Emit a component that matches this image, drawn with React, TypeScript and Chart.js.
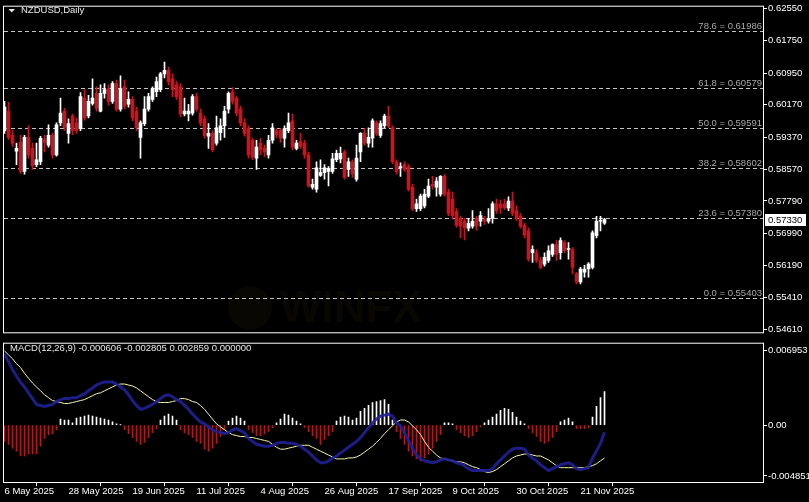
import React, { useEffect, useRef } from "react";
import { Chart, registerables } from "chart.js";

Chart.register(...registerables);

const FONT = '"Liberation Sans", Arial, sans-serif';

// ---- price data (NZDUSD daily) ----
const OPEN = [
  0.5953,0.6001,0.5941,0.5902,0.5924,0.5852,0.5936,0.5909,0.5869,0.5876,
  0.5931,0.5917,0.5941,0.5893,0.5972,0.6001,0.5946,0.5989,0.5972,0.5958,
  0.6033,0.5989,0.6020,0.6045,0.6001,0.6045,0.6057,0.6025,0.6069,0.6006,
  0.6061,0.6018,0.6030,0.6001,0.5936,0.5970,0.6006,0.6030,0.6049,0.6054,
  0.6093,0.6102,0.6081,0.6066,0.6061,0.5994,0.5994,0.5996,0.6037,0.5996,
  0.5982,0.5939,0.5946,0.5922,0.5948,0.5965,0.6006,0.6049,0.6033,0.6006,
  0.5972,0.5958,0.5929,0.5885,0.5922,0.5909,0.5893,0.5929,0.5953,0.5953,
  0.5934,0.5953,0.5977,0.5909,0.5926,0.5922,0.5893,0.5813,0.5808,0.5842,
  0.5849,0.5852,0.5852,0.5881,0.5883,0.5900,0.5857,0.5876,0.5833,0.5900,
  0.5946,0.5922,0.5934,0.5972,0.5941,0.5965,0.5989,0.5960,0.5876,0.5861,
  0.5869,0.5864,0.5813,0.5760,0.5760,0.5767,0.5791,0.5820,0.5813,0.5796,
  0.5840,0.5801,0.5784,0.5753,0.5736,0.5729,0.5712,0.5717,0.5736,0.5729,
  0.5733,0.5729,0.5736,0.5772,0.5772,0.5772,0.5762,0.5779,0.5755,0.5741,
  0.5719,0.5705,0.5651,0.5651,0.5632,0.5623,0.5632,0.5647,0.5671,0.5651,
  0.5676,0.5659,0.5659,0.5599,0.5579,0.5603,0.5611,0.5615,0.5693,0.5729,
  0.5724,
];
const HIGH = [
  0.6025,0.6023,0.5953,0.5922,0.5941,0.5941,0.5965,0.5922,0.5922,0.5939,
  0.5941,0.5967,0.5946,0.5972,0.6033,0.6008,0.5982,0.5994,0.5984,0.6047,
  0.6054,0.6040,0.6081,0.6061,0.6066,0.6069,0.6066,0.6074,0.6078,0.6088,
  0.6078,0.6049,0.6037,0.6011,0.5977,0.6037,0.6045,0.6061,0.6085,0.6097,
  0.6122,0.6110,0.6093,0.6074,0.6069,0.6033,0.6018,0.6042,0.6045,0.6006,
  0.5989,0.5970,0.5953,0.5989,0.5982,0.6013,0.6049,0.6059,0.6037,0.6013,
  0.5982,0.5965,0.5934,0.5929,0.5934,0.5917,0.5941,0.5970,0.5958,0.5958,
  0.5965,0.5996,0.5994,0.5929,0.5946,0.5929,0.5900,0.5833,0.5876,0.5881,
  0.5869,0.5864,0.5897,0.5905,0.5912,0.5905,0.5885,0.5881,0.5917,0.5948,
  0.5958,0.5960,0.5982,0.5977,0.5977,0.5994,0.6013,0.5965,0.5881,0.5873,
  0.5876,0.5869,0.5820,0.5784,0.5796,0.5808,0.5833,0.5840,0.5837,0.5842,
  0.5845,0.5808,0.5801,0.5760,0.5741,0.5736,0.5736,0.5755,0.5741,0.5753,
  0.5741,0.5760,0.5777,0.5784,0.5781,0.5784,0.5789,0.5801,0.5767,0.5748,
  0.5724,0.5712,0.5668,0.5659,0.5640,0.5651,0.5668,0.5673,0.5681,0.5688,
  0.5681,0.5676,0.5664,0.5603,0.5615,0.5620,0.5627,0.5705,0.5741,0.5741,
  0.5736,
];
const LOW = [
  0.5946,0.5931,0.5914,0.5869,0.5847,0.5845,0.5885,0.5857,0.5864,0.5869,
  0.5900,0.5912,0.5885,0.5890,0.5965,0.5953,0.5922,0.5943,0.5946,0.5953,
  0.5979,0.5984,0.6016,0.6001,0.5999,0.6033,0.6016,0.6020,0.6001,0.6001,
  0.6006,0.6011,0.5977,0.5953,0.5885,0.5965,0.6001,0.6025,0.6037,0.6049,
  0.6083,0.6066,0.6037,0.6030,0.5987,0.5989,0.5977,0.5991,0.6001,0.5965,
  0.5934,0.5909,0.5900,0.5917,0.5929,0.5936,0.5996,0.6018,0.5989,0.5965,
  0.5939,0.5885,0.5881,0.5857,0.5893,0.5888,0.5885,0.5922,0.5936,0.5924,
  0.5912,0.5948,0.5905,0.5905,0.5909,0.5885,0.5813,0.5808,0.5801,0.5840,
  0.5833,0.5816,0.5847,0.5876,0.5873,0.5833,0.5840,0.5837,0.5828,0.5876,
  0.5917,0.5912,0.5912,0.5941,0.5936,0.5960,0.5960,0.5871,0.5845,0.5840,
  0.5852,0.5804,0.5755,0.5753,0.5755,0.5762,0.5787,0.5808,0.5791,0.5791,
  0.5791,0.5743,0.5736,0.5714,0.5688,0.5683,0.5705,0.5712,0.5707,0.5717,
  0.5721,0.5724,0.5724,0.5748,0.5748,0.5758,0.5755,0.5743,0.5731,0.5712,
  0.5688,0.5630,0.5627,0.5627,0.5611,0.5618,0.5627,0.5642,0.5632,0.5635,
  0.5651,0.5635,0.5599,0.5574,0.5574,0.5591,0.5591,0.5611,0.5688,0.5705,
  0.5721,
];
const CLOSE = [
  0.6011,0.5936,0.5922,0.5909,0.5852,0.5936,0.5893,0.5866,0.5881,0.5934,
  0.5924,0.5941,0.5893,0.5967,0.5996,0.5960,0.5970,0.5953,0.5953,0.6037,
  0.5984,0.6025,0.6033,0.6008,0.6045,0.6054,0.6025,0.6069,0.6006,0.6057,
  0.6013,0.6030,0.5984,0.5960,0.5972,0.6006,0.6037,0.6057,0.6074,0.6093,
  0.6102,0.6074,0.6054,0.6037,0.5994,0.6001,0.6001,0.6037,0.6006,0.5972,
  0.5941,0.5946,0.5905,0.5960,0.5965,0.6001,0.6045,0.6025,0.5996,0.5972,
  0.5946,0.5893,0.5888,0.5912,0.5905,0.5900,0.5929,0.5960,0.5943,0.5934,
  0.5958,0.5972,0.5912,0.5922,0.5914,0.5893,0.5816,0.5820,0.5861,0.5849,
  0.5861,0.5859,0.5883,0.5897,0.5897,0.5837,0.5876,0.5845,0.5885,0.5946,
  0.5922,0.5936,0.5977,0.5946,0.5970,0.5989,0.5965,0.5876,0.5852,0.5864,
  0.5857,0.5808,0.5760,0.5772,0.5791,0.5796,0.5816,0.5816,0.5828,0.5840,
  0.5796,0.5748,0.5743,0.5719,0.5717,0.5712,0.5724,0.5729,0.5717,0.5743,
  0.5729,0.5736,0.5772,0.5755,0.5762,0.5762,0.5779,0.5748,0.5736,0.5717,
  0.5695,0.5635,0.5659,0.5632,0.5615,0.5640,0.5656,0.5671,0.5647,0.5681,
  0.5656,0.5661,0.5615,0.5579,0.5611,0.5611,0.5623,0.5700,0.5729,0.5731,
  0.5733,
];

// ---- MACD(12,26,9) ----
const MACD_MAIN = [
  0.006084,0.005420,0.004756,0.004175,0.003677,0.003262,0.002764,0.002266,0.001768,0.001685,
  0.001602,0.001685,0.001768,0.002017,0.002183,0.002266,0.002266,0.002349,0.002349,0.002515,
  0.002681,0.002930,0.003179,0.003428,0.003594,0.003677,0.003677,0.003677,0.003511,0.003262,
  0.003013,0.002598,0.002100,0.001685,0.001353,0.001436,0.001602,0.001768,0.002017,0.002266,
  0.002515,0.002598,0.002432,0.002183,0.002017,0.001685,0.001353,0.000938,0.000606,0.000274,
  0.000108,-0.000141,-0.000390,-0.000556,-0.000639,-0.000722,-0.000639,-0.000390,-0.000307,-0.000473,
  -0.000639,-0.001137,-0.001386,-0.001635,-0.001718,-0.001801,-0.001801,-0.001718,-0.001552,-0.001469,
  -0.001469,-0.001552,-0.001552,-0.001635,-0.001801,-0.002050,-0.002299,-0.002631,-0.002963,-0.003212,
  -0.003212,-0.003046,-0.002797,-0.002631,-0.002382,-0.002133,-0.001884,-0.001635,-0.001386,-0.001054,
  -0.000639,-0.000224,0.000191,0.000523,0.000772,0.000855,0.000938,0.000772,0.000191,-0.000058,
  -0.000639,-0.001303,-0.001967,-0.002548,-0.002880,-0.003046,-0.003129,-0.003212,-0.003129,-0.002963,
  -0.002880,-0.002963,-0.003046,-0.003212,-0.003295,-0.003461,-0.003710,-0.003876,-0.003876,-0.003876,
  -0.003876,-0.003876,-0.003710,-0.003295,-0.002963,-0.002631,-0.002299,-0.002050,-0.001967,-0.001967,
  -0.002050,-0.002548,-0.002797,-0.003046,-0.003378,-0.003627,-0.003876,-0.003710,-0.003544,-0.003378,
  -0.003295,-0.003212,-0.003378,-0.003710,-0.003793,-0.003710,-0.003627,-0.002797,-0.002216,-0.001552,
  -0.000606,
];
const MACD_SIGNAL = [
  0.006333,0.006001,0.005669,0.005254,0.004922,0.004424,0.004009,0.003594,0.003262,0.002930,
  0.002598,0.002349,0.002100,0.002017,0.001934,0.001851,0.001851,0.001934,0.002017,0.002100,
  0.002183,0.002349,0.002515,0.002681,0.002764,0.002930,0.003096,0.003262,0.003428,0.003511,
  0.003511,0.003428,0.003345,0.003179,0.002930,0.002681,0.002432,0.002183,0.002017,0.001934,
  0.001934,0.001934,0.002017,0.002100,0.002266,0.002266,0.002183,0.002017,0.001934,0.001685,
  0.001353,0.000938,0.000523,0.000108,-0.000141,-0.000390,-0.000639,-0.000805,-0.000888,-0.000971,
  -0.000971,-0.001054,-0.001054,-0.001137,-0.001220,-0.001303,-0.001386,-0.001635,-0.001884,-0.002050,
  -0.002050,-0.001967,-0.001884,-0.001801,-0.001718,-0.001718,-0.001718,-0.001884,-0.002050,-0.002216,
  -0.002382,-0.002548,-0.002714,-0.002880,-0.002880,-0.002880,-0.002797,-0.002797,-0.002714,-0.002548,
  -0.002299,-0.002050,-0.001801,-0.001469,-0.001137,-0.000722,-0.000390,-0.000058,0.000274,0.000440,
  0.000440,0.000274,-0.000058,-0.000390,-0.000805,-0.001386,-0.001884,-0.002216,-0.002548,-0.002797,
  -0.002880,-0.002963,-0.003046,-0.003129,-0.003129,-0.003212,-0.003378,-0.003544,-0.003627,-0.003793,
  -0.003959,-0.004042,-0.003959,-0.003793,-0.003544,-0.003295,-0.003046,-0.002797,-0.002631,-0.002548,
  -0.002465,-0.002465,-0.002548,-0.002631,-0.002631,-0.002797,-0.002963,-0.003212,-0.003461,-0.003627,
  -0.003627,-0.003627,-0.003627,-0.003627,-0.003627,-0.003627,-0.003544,-0.003461,-0.003295,-0.003046,
  -0.002805,
];
const MACD_HIST = [
  -0.001386,-0.001635,-0.001967,-0.002216,-0.002631,-0.002631,-0.002465,-0.002465,-0.002465,-0.001801,
  -0.001137,-0.000805,-0.000722,-0.000390,0.000523,0.000440,0.000440,0.000191,0.000606,0.000689,
  0.000772,0.000855,0.000772,0.000689,0.000606,0.000523,0.000440,0.000274,0.000108,0.000025,
  -0.000390,-0.000722,-0.001054,-0.001386,-0.001635,-0.001469,-0.001054,-0.000639,-0.000307,0.000440,
  0.000772,0.000938,0.000772,0.000440,-0.000390,-0.000639,-0.000805,-0.001054,-0.001386,-0.001552,
  -0.002050,-0.002216,-0.001967,-0.001552,-0.000971,-0.000390,0.000357,0.000606,0.000772,0.000606,
  0.000357,-0.000390,-0.000639,-0.000888,-0.000888,-0.000722,-0.000556,-0.000224,0.000191,0.000523,
  0.000938,0.000855,0.000606,0.000357,0.000108,-0.000224,-0.000556,-0.000888,-0.001137,-0.001635,
  -0.001220,-0.000888,-0.000556,0.000357,0.000689,0.000772,0.000689,0.000440,0.000606,0.001187,
  0.001436,0.001685,0.001934,0.002017,0.002100,0.002183,0.001768,0.000440,-0.000556,-0.001137,
  -0.001635,-0.002216,-0.002631,-0.002880,-0.003046,-0.002797,-0.002465,-0.001967,-0.001386,-0.000805,
  0.000191,0.000191,0.000108,-0.000390,-0.000639,-0.000888,-0.001054,-0.000888,-0.000556,-0.000141,
  0.000191,0.000440,0.000689,0.000938,0.001270,0.001436,0.001353,0.001104,0.000689,0.000357,
  0.000108,-0.000307,-0.000639,-0.000971,-0.001386,-0.001552,-0.001386,-0.001054,-0.000556,0.000274,
  0.000440,0.000606,0.000274,-0.000307,-0.000307,-0.000307,-0.000224,0.000689,0.001602,0.002349,
  0.002859,
];

// ---- axes / labels ----
const PRICE_TICKS = [0.6255, 0.6175, 0.6095, 0.6017, 0.5937, 0.5857, 0.5779, 0.5699, 0.5619, 0.5541, 0.5461];
const FIB_LEVELS = ["78.6", "61.8", "50.0", "38.2", "23.6", "0.0"];
const FIB_PRICES = [0.61986, 0.60579, 0.59591, 0.58602, 0.5738, 0.55403];
const X_TICK_INDEX = [0, 16, 32, 48, 64, 80, 96, 112, 128, 144];
const X_TICK_LABELS = [
  "6 May 2025", "28 May 2025", "19 Jun 2025", "11 Jul 2025", "4 Aug 2025",
  "26 Aug 2025", "17 Sep 2025", "9 Oct 2025", "30 Oct 2025", "21 Nov 2025",
];
const MACD_TICK_VALUES = [0.0064, 0, -0.00433];
const MACD_TICK_LABELS = ["0.006953", "0.00", "-0.004851"];
const MACD_MIN = -0.004851;
const MACD_MAX = 0.006953;
const PRICE_MIN = 0.54545;
const PRICE_MAX = 0.62591;
const X_MIN = -0.125;
const X_MAX = 189.625;

const RED = "#cc1420";
const HIST_RED = "#b8161e";
const WHITE = "#ffffff";

const IDX = OPEN.map((_, i) => i);
const candleColor = (i: number) => (CLOSE[i] >= OPEN[i] ? WHITE : RED);

function drawFrame(chart: any) {
  const { ctx, chartArea: a } = chart;
  ctx.save();
  ctx.strokeStyle = "#ffffff";
  ctx.lineWidth = 1;
  ctx.setLineDash([]);
  ctx.strokeRect(a.left - 0.5, a.top - 0.5, a.right - a.left + 1, a.bottom - a.top + 1);
  ctx.restore();
}

const topDecor = {
  id: "topDecor",
  beforeDatasetsDraw(chart: any) {
    const { ctx, chartArea: a, scales } = chart;
    const y = scales.y;
    ctx.save();
    // faint watermark
    ctx.fillStyle = "rgba(80,66,20,0.11)";
    ctx.beginPath();
    ctx.arc(250, 308, 22, 0, Math.PI * 2);
    ctx.fill();
    ctx.font = `bold 44px ${FONT}`;
    ctx.textAlign = "left";
    ctx.textBaseline = "middle";
    ctx.fillText("WINFX", 280, 310);
    // fibonacci levels
    ctx.strokeStyle = "#c4c4c4";
    ctx.lineWidth = 1;
    ctx.setLineDash([4, 3]);
    ctx.font = `9.5px ${FONT}`;
    ctx.textAlign = "right";
    ctx.textBaseline = "alphabetic";
    FIB_PRICES.forEach((p, k) => {
      const py = Math.round(y.getPixelForValue(p)) + 0.5;
      ctx.beginPath();
      ctx.moveTo(a.left, py);
      ctx.lineTo(a.right, py);
      ctx.stroke();
      ctx.fillStyle = "#a8a8a8";
      ctx.fillText(`${FIB_LEVELS[k]} = ${p.toFixed(5)}`, a.right - 1, py - 2.5);
    });
    ctx.restore();
  },
  afterDraw(chart: any) {
    const { ctx, chartArea: a, scales } = chart;
    drawFrame(chart);
    ctx.save();
    // title
    ctx.fillStyle = "#e8e8e8";
    ctx.beginPath();
    ctx.moveTo(8.5, 9);
    ctx.lineTo(15, 9);
    ctx.lineTo(11.75, 12.5);
    ctx.closePath();
    ctx.fill();
    ctx.font = `9.5px ${FONT}`;
    ctx.textAlign = "left";
    ctx.textBaseline = "middle";
    ctx.fillText("NZDUSD,Daily", 21, 10.5);
    // current price box
    const last = CLOSE[CLOSE.length - 1];
    const cy = scales.y.getPixelForValue(last);
    ctx.fillStyle = "#ffffff";
    ctx.fillRect(a.right + 2, Math.round(cy) - 6, 41, 12);
    ctx.fillStyle = "#000000";
    ctx.fillText(last.toFixed(5), a.right + 5, Math.round(cy) + 0.5);
    ctx.restore();
  },
};

const macdDecor = {
  id: "macdDecor",
  afterDraw(chart: any) {
    const { ctx } = chart;
    drawFrame(chart);
    ctx.save();
    ctx.fillStyle = "#e8e8e8";
    ctx.font = `9.5px ${FONT}`;
    ctx.textAlign = "left";
    ctx.textBaseline = "middle";
    const n = MACD_MAIN.length - 1;
    const txt = `MACD(12,26,9) ${MACD_MAIN[n].toFixed(6)} ${MACD_SIGNAL[n].toFixed(6)} ${MACD_HIST[n].toFixed(6)} 0.000000`;
    ctx.fillText(txt, 10, 11.5);
    ctx.restore();
  },
};

export default function App() {
  const topRef = useRef<HTMLCanvasElement>(null);
  const botRef = useRef<HTMLCanvasElement>(null);

  useEffect(() => {
    document.body.style.margin = "0";
    document.body.style.background = "#000";
    Chart.defaults.font.family = FONT;
    Chart.defaults.font.size = 9.5;
    Chart.defaults.color = "#ffffff";

    const top = new Chart(topRef.current as HTMLCanvasElement, {
      type: "bar",
      data: {
        datasets: [
          {
            label: "wick",
            data: IDX.map((i) => ({ x: i, y: [LOW[i], HIGH[i]] })) as any,
            backgroundColor: IDX.map(candleColor),
            barThickness: 1,
            grouped: false,
            minBarLength: 1,
            borderWidth: 0,
            order: 1,
          },
          {
            label: "body",
            data: IDX.map((i) => ({ x: i, y: [OPEN[i], CLOSE[i]] })) as any,
            backgroundColor: IDX.map(candleColor),
            barThickness: 3,
            grouped: false,
            minBarLength: 1,
            borderWidth: 0,
            order: 0,
          },
        ],
      },
      options: {
        animation: false,
        responsive: false,
        events: [],
        layout: { padding: { left: 4, top: 3, right: 0, bottom: 2 } },
        plugins: { legend: { display: false }, tooltip: { enabled: false } },
        scales: {
          x: { type: "linear", display: false, min: X_MIN, max: X_MAX, offset: false },
          y: {
            position: "right",
            min: PRICE_MIN,
            max: PRICE_MAX,
            afterBuildTicks: (s: any) => {
              s.ticks = PRICE_TICKS.map((v) => ({ value: v }));
            },
            afterFit: (s: any) => {
              s.width = 46;
            },
            ticks: {
              color: "#ffffff",
              padding: 1,
              autoSkip: false,
              font: { family: FONT, size: 9.5 },
              callback: (v: any) => Number(v).toFixed(5),
            },
            grid: { drawOnChartArea: false, drawTicks: true, tickLength: 4, color: "#ffffff" },
            border: { display: false },
          },
        },
      } as any,
      plugins: [topDecor],
    });

    const bot = new Chart(botRef.current as HTMLCanvasElement, {
      type: "bar",
      data: {
        datasets: [
          {
            type: "line",
            label: "MACD",
            data: IDX.map((i) => ({ x: i, y: MACD_MAIN[i] })),
            borderColor: "rgba(32,32,150,0.9)",
            borderWidth: 3,
            pointRadius: 0,
            order: 0,
          } as any,
          {
            type: "line",
            label: "Signal",
            data: IDX.map((i) => ({ x: i, y: MACD_SIGNAL[i] })),
            borderColor: "#f6f6a8",
            borderWidth: 1,
            pointRadius: 0,
            order: 0,
          } as any,
          {
            type: "bar",
            label: "Histogram",
            data: IDX.map((i) => ({ x: i, y: MACD_HIST[i] })),
            backgroundColor: IDX.map((i) => (MACD_HIST[i] >= 0 ? WHITE : HIST_RED)),
            barThickness: 1,
            grouped: false,
            borderWidth: 0,
            order: 1,
          } as any,
        ],
      },
      options: {
        animation: false,
        responsive: false,
        events: [],
        layout: { padding: { left: 4, top: 3, right: 0, bottom: 0 } },
        plugins: { legend: { display: false }, tooltip: { enabled: false } },
        scales: {
          x: {
            type: "linear",
            min: X_MIN,
            max: X_MAX,
            offset: false,
            afterBuildTicks: (s: any) => {
              s.ticks = X_TICK_INDEX.map((v) => ({ value: v }));
            },
            afterFit: (s: any) => {
              s.height = 20;
            },
            ticks: {
              color: "#ffffff",
              align: "start",
              padding: 0,
              autoSkip: false,
              maxRotation: 0,
              minRotation: 0,
              font: { family: FONT, size: 9.5 },
              callback: (v: any) => X_TICK_LABELS[X_TICK_INDEX.indexOf(Number(v))] ?? "",
            },
            grid: { drawOnChartArea: false, drawTicks: true, tickLength: 4, color: "#ffffff" },
            border: { display: false },
          },
          y: {
            position: "right",
            min: MACD_MIN,
            max: MACD_MAX,
            afterBuildTicks: (s: any) => {
              s.ticks = MACD_TICK_VALUES.map((v) => ({ value: v }));
            },
            afterFit: (s: any) => {
              s.width = 46;
            },
            ticks: {
              color: "#ffffff",
              padding: 1,
              autoSkip: false,
              font: { family: FONT, size: 9.5 },
              callback: (_v: any, k: number) => MACD_TICK_LABELS[k],
            },
            grid: { drawOnChartArea: false, drawTicks: true, tickLength: 4, color: "#ffffff" },
            border: { display: false },
          },
        },
      } as any,
      plugins: [macdDecor],
    });

    return () => {
      top.destroy();
      bot.destroy();
    };
  }, []);

  return (
    <div style={{ position: "relative", width: 809, height: 502, background: "#000", overflow: "hidden" }}>
      <canvas ref={topRef} width={809} height={339} style={{ position: "absolute", left: 0, top: 0 }} />
      <canvas ref={botRef} width={809} height={165} style={{ position: "absolute", left: 0, top: 337 }} />
    </div>
  );
}
